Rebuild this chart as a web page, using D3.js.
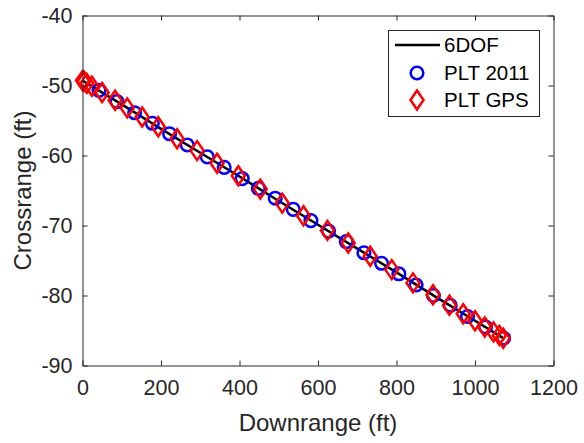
<!DOCTYPE html>
<html><head><meta charset="utf-8">
<script src="https://cdn.jsdelivr.net/npm/d3@7"></script>
<style>
html,body{margin:0;padding:0;background:#fff;}
svg{display:block;font-family:"Liberation Sans",Arial,Helvetica,sans-serif;}
</style></head>
<body>
<svg id="chart" width="584" height="443"></svg>
<script>
// ---- data ----
const xTicks = [0, 200, 400, 600, 800, 1000, 1200];
const yTicks = [-40, -50, -60, -70, -80, -90];
const seriesNames = ["6DOF", "PLT 2011", "PLT GPS"];

const sixdofDown  = [0, 100, 200, 300, 400, 500, 600, 700, 800, 900, 1000, 1075];
const sixdofCross = [-49.3, -52.7, -56.2, -59.6, -63.0, -66.5, -69.9, -73.3, -76.7, -80.2, -83.6, -86.2];

const plt2011Down  = [42, 88, 133, 178, 222, 267, 318, 361, 407, 448, 491, 537, 582, 627, 672, 717, 762, 806, 850, 894, 937, 981, 1027, 1073];
const plt2011Cross = [-50.7, -52.3, -53.9, -55.4, -56.9, -58.5, -60.2, -61.7, -63.3, -64.7, -66.1, -67.7, -69.3, -70.8, -72.3, -73.9, -75.4, -76.9, -78.5, -80.0, -81.4, -83.0, -84.5, -86.1];

const pltGpsDown  = [0, 4, 11, 24, 50, 83, 114, 152, 193, 241, 292, 343, 397, 453, 509, 563, 624, 677, 733, 788, 842, 893, 935, 970, 1000, 1025, 1047, 1062, 1072];
const pltGpsCross = [-49.3, -49.4, -49.7, -50.1, -51.0, -52.1, -53.2, -54.5, -55.9, -57.6, -59.3, -61.1, -62.9, -64.8, -66.8, -68.6, -70.7, -72.5, -74.4, -76.3, -78.2, -79.9, -81.4, -82.6, -83.6, -84.5, -85.2, -85.7, -86.1];

// ---- layout ----
const svg = d3.select("#chart");
const L = 82.5, R = 553.5, T = 15.5, B = 365.5;
const x = d3.scaleLinear().domain([0, 1200]).range([L, R]);
const y = d3.scaleLinear().domain([-90, -40]).range([B, T]);
const axisCol = "#262626";
const tickFont = 21.5;

// ---- data marks ----
const line = d3.line().x(d => x(d[0])).y(d => y(d[1]));
const sixdof = sixdofDown.map((d, i) => [d, sixdofCross[i]]);
const p2011 = plt2011Down.map((d, i) => [d, plt2011Cross[i]]);
const pgps = pltGpsDown.map((d, i) => [d, pltGpsCross[i]]);

svg.append("path").datum(sixdof).attr("d", line)
  .attr("fill", "none").attr("stroke", "#000").attr("stroke-width", 2.5);

svg.append("g").selectAll("circle").data(p2011).join("circle")
  .attr("cx", d => x(d[0])).attr("cy", d => y(d[1])).attr("r", 6.3)
  .attr("fill", "none").attr("stroke", "#0000ff").attr("stroke-width", 2.5);

const diamond = (cx, cy) => `M${cx},${cy-9.5}L${cx+6.5},${cy}L${cx},${cy+9.5}L${cx-6.5},${cy}Z`;
svg.append("g").selectAll("path").data(pgps).join("path")
  .attr("d", d => diamond(x(d[0]), y(d[1])))
  .attr("fill", "none").attr("stroke", "#ff0000").attr("stroke-width", 2.5);

// ---- axes ----
const xAxis = d3.axisBottom(x).tickValues(xTicks).tickSizeInner(-5).tickSizeOuter(0).tickPadding(14)
  .tickFormat(d3.format("d"));
const gx = svg.append("g").attr("transform", `translate(0,${B})`).call(xAxis);
const yAxis = d3.axisLeft(y).tickValues(yTicks).tickSizeInner(-5).tickSizeOuter(0).tickPadding(10)
  .tickFormat(d => "-" + Math.abs(d));
const gy = svg.append("g").attr("transform", `translate(${L},0)`).call(yAxis);
const xAxisTop = d3.axisTop(x).tickValues(xTicks).tickSizeInner(-5).tickSizeOuter(0).tickFormat("");
svg.append("g").attr("transform", `translate(0,${T})`).call(xAxisTop);
const yAxisRight = d3.axisRight(y).tickValues(yTicks).tickSizeInner(-5).tickSizeOuter(0).tickFormat("");
svg.append("g").attr("transform", `translate(${R},0)`).call(yAxisRight);

svg.selectAll(".domain").attr("stroke", axisCol).attr("stroke-width", 1);
svg.selectAll(".tick line").attr("stroke", axisCol).attr("stroke-width", 1);
svg.selectAll(".tick text").attr("fill", axisCol).attr("font-size", tickFont)
  .attr("font-family", "'Liberation Sans',Arial,Helvetica,sans-serif");

// ---- axis labels ----
svg.append("text").attr("x", (L + R) / 2).attr("y", 431).attr("text-anchor", "middle")
  .attr("font-size", 24).attr("fill", axisCol).text("Downrange (ft)");
svg.append("text").attr("transform", `translate(31,${(T + B) / 2}) rotate(-90)`)
  .attr("text-anchor", "middle").attr("font-size", 24).attr("fill", axisCol).text("Crossrange (ft)");

// ---- legend ----
const lg = svg.append("g");
lg.append("rect").attr("x", 388.5).attr("y", 30.5).attr("width", 151).attr("height", 86)
  .attr("fill", "#fff").attr("stroke", axisCol).attr("stroke-width", 1);
const rows = [45, 73, 100];
lg.append("line").attr("x1", 395).attr("x2", 440).attr("y1", rows[0]).attr("y2", rows[0])
  .attr("stroke", "#000").attr("stroke-width", 2.5);
lg.append("circle").attr("cx", 417).attr("cy", rows[1]).attr("r", 6.3)
  .attr("fill", "none").attr("stroke", "#0000ff").attr("stroke-width", 2.5);
lg.append("path").attr("d", diamond(417, rows[2]))
  .attr("fill", "none").attr("stroke", "#ff0000").attr("stroke-width", 2.5);
lg.selectAll("text.lab").data(seriesNames).join("text").attr("class", "lab")
  .attr("x", 444).attr("y", (d, i) => rows[i]).attr("dy", "0.36em")
  .attr("font-size", 20.5).attr("fill", "#000").text(d => d);
</script>
</body></html>
